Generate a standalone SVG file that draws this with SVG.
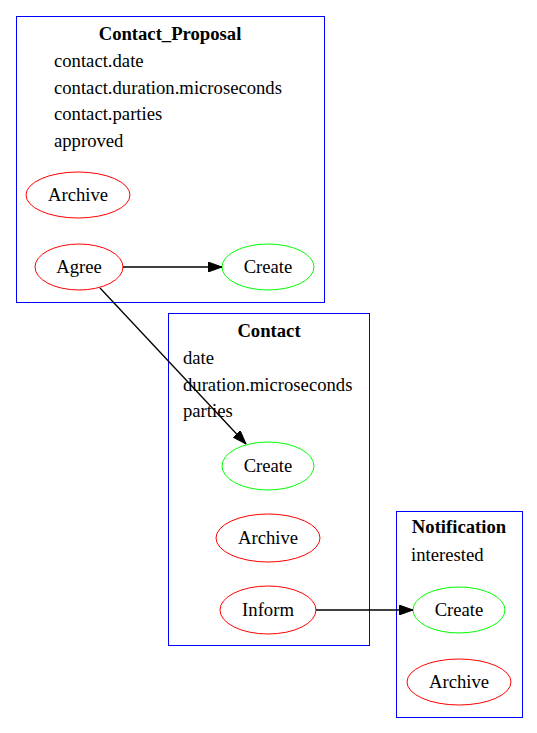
<svg xmlns="http://www.w3.org/2000/svg" width="537" height="733" viewBox="0 0 537 733">
<style>
text{font-family:"Liberation Serif","Times New Roman",serif;font-size:18.67px;fill:#000}
.t{font-weight:bold;text-anchor:middle}
.c{text-anchor:middle}
.cl{fill:none;stroke:#0000ff;stroke-width:1}
.g{fill:none;stroke:#00ff00;stroke-width:1}
.r{fill:none;stroke:#ff0000;stroke-width:1}
.e{fill:none;stroke:#000;stroke-width:1.3}
</style>
<defs>
<marker id="ah" markerWidth="14" markerHeight="10" refX="14" refY="5" orient="auto" markerUnits="userSpaceOnUse">
<polygon points="0,0 14,5 0,10" fill="#000" stroke="#000"/>
</marker>
</defs>
<rect width="537" height="733" fill="#fff"/>
<g id="cluster_Contact_Proposal">
<rect class="cl" x="16.5" y="16.5" width="308" height="286"/>
<text class="t" x="170" y="40">Contact_Proposal</text>
<text x="54" y="67">contact.date</text>
<text x="54" y="94">contact.duration.microseconds</text>
<text x="54" y="120">contact.parties</text>
<text x="54" y="147">approved</text>
</g>
<g id="Contact_Proposal_Archive">
<ellipse class="r" cx="78" cy="195" rx="52" ry="23"/>
<text class="c" x="78" y="201">Archive</text>
</g>
<g id="Contact_Proposal_Agree">
<ellipse class="r" cx="79" cy="267" rx="44" ry="23"/>
<text class="c" x="79" y="273">Agree</text>
</g>
<g id="Contact_Proposal_Create">
<ellipse class="g" cx="268" cy="267" rx="46" ry="23"/>
<text class="c" x="268" y="273">Create</text>
</g>
<g id="cluster_Contact">
<rect class="cl" x="168.5" y="313.5" width="201" height="332"/>
<text class="t" x="269" y="337">Contact</text>
<text x="183" y="364">date</text>
<text x="183" y="391">duration.microseconds</text>
<text x="183" y="417">parties</text>
</g>
<g id="Contact_Create">
<ellipse class="g" cx="268" cy="466" rx="46" ry="24"/>
<text class="c" x="268" y="472">Create</text>
</g>
<g id="Contact_Archive">
<ellipse class="r" cx="268" cy="538" rx="52" ry="24"/>
<text class="c" x="268" y="544">Archive</text>
</g>
<g id="Contact_Inform">
<ellipse class="r" cx="268" cy="610" rx="48" ry="24"/>
<text class="c" x="268" y="616">Inform</text>
</g>
<g id="cluster_Notification">
<rect class="cl" x="396.5" y="511.5" width="126" height="206"/>
<text class="t" x="459" y="533">Notification</text>
<text x="411" y="561">interested</text>
</g>
<g id="Notification_Create">
<ellipse class="g" cx="459" cy="610" rx="46" ry="23"/>
<text class="c" x="459" y="616">Create</text>
</g>
<g id="Notification_Archive">
<ellipse class="r" cx="459" cy="682" rx="52" ry="23"/>
<text class="c" x="459" y="688">Archive</text>
</g>
<g id="connectors">
<line class="e" x1="123" y1="267" x2="222" y2="267" marker-end="url(#ah)"/>
<line class="e" x1="100" y1="288" x2="246" y2="444" marker-end="url(#ah)"/>
<line class="e" x1="316" y1="610" x2="413" y2="610" marker-end="url(#ah)"/>
</g>
</svg>
